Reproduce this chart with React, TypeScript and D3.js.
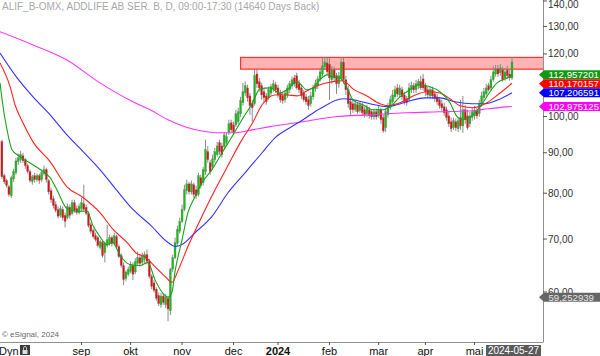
import React from "react";
import * as d3 from "d3";

const W = 600;
const H = 356;
const PLOT_R = 543;
const PLOT_B = 342;

const title = "ALIF_B-OMX, ADDLIFE AB SER. B, D, 09:00-17:30 (14640 Days Back)";

// [open, high, low, close] per trading day, 2023-07-17 .. 2024-05-27
const ohlc: [number, number, number, number][] = [
  [93.0, 93.5, 83.4, 83.9], [84.2, 84.7, 82.2, 82.7], [83.0, 83.4, 81.3, 81.8], [81.5, 82.0, 79.2, 79.7],
  [79.4, 84.2, 78.9, 83.7], [83.4, 85.9, 82.7, 85.2], [84.9, 88.7, 84.4, 87.9], [87.7, 89.8, 86.9, 88.7],
  [88.2, 90.5, 87.4, 89.5], [89.2, 90.0, 87.4, 87.9], [88.2, 88.7, 85.9, 86.7], [86.7, 87.2, 84.7, 85.2],
  [85.2, 85.7, 82.5, 83.0], [82.7, 84.4, 82.0, 83.9], [84.2, 84.9, 82.5, 83.2], [83.2, 84.7, 82.7, 84.2],
  [84.2, 84.7, 82.2, 83.0], [83.2, 85.7, 82.7, 84.9], [84.7, 86.7, 84.2, 85.7], [85.7, 86.2, 82.5, 83.2],
  [83.0, 83.4, 79.7, 80.3], [80.6, 81.3, 77.8, 78.5], [78.7, 79.4, 76.5, 77.2], [77.4, 78.1, 75.6, 76.1],
  [76.3, 77.0, 74.3, 74.8], [75.0, 77.2, 74.5, 76.5], [76.3, 77.0, 73.9, 74.5], [75.0, 75.6, 72.4, 73.7],
  [74.5, 77.6, 74.1, 77.0], [76.8, 77.4, 74.3, 75.0], [75.4, 78.5, 75.0, 77.8], [77.8, 78.5, 75.6, 76.1],
  [76.5, 77.2, 75.2, 75.6], [75.6, 77.6, 75.2, 77.0], [76.5, 79.0, 75.9, 77.8], [77.6, 82.0, 75.9, 76.3],
  [76.8, 77.4, 75.0, 75.4], [75.4, 75.9, 72.4, 72.8], [73.0, 73.5, 71.1, 71.6], [71.8, 72.2, 70.1, 70.5],
  [70.7, 71.3, 69.5, 69.9], [70.3, 70.7, 68.3, 68.7], [68.3, 69.9, 67.9, 69.5], [69.3, 69.7, 66.3, 66.7],
  [67.3, 69.5, 65.4, 69.1], [68.7, 73.0, 68.3, 69.9], [69.1, 70.9, 68.7, 70.3], [70.3, 70.7, 68.5, 69.1],
  [69.1, 71.3, 68.7, 70.7], [70.5, 70.9, 68.1, 68.5], [68.5, 68.9, 66.2, 66.5], [66.7, 67.1, 64.4, 64.8],
  [64.8, 65.4, 61.2, 62.2], [62.4, 63.9, 61.9, 63.6], [63.2, 64.6, 62.8, 64.1], [63.7, 65.6, 63.4, 65.0],
  [64.8, 65.4, 62.1, 63.2], [63.6, 66.2, 63.2, 65.6], [65.2, 67.5, 64.8, 66.3], [66.3, 67.1, 64.6, 65.2],
  [65.4, 67.3, 64.8, 66.7], [66.0, 67.5, 65.2, 66.9], [66.9, 67.9, 65.0, 65.6], [65.6, 66.0, 62.4, 62.8],
  [62.8, 63.2, 60.5, 61.0], [61.6, 62.1, 59.9, 60.3], [60.5, 60.8, 58.5, 58.9], [59.4, 59.9, 57.6, 58.0],
  [57.8, 59.8, 57.3, 59.3], [59.3, 59.8, 57.8, 58.2], [57.8, 59.6, 57.3, 59.1], [58.9, 59.3, 55.1, 57.1],
  [56.8, 64.4, 56.1, 64.1], [64.1, 66.9, 63.6, 66.3], [66.3, 70.3, 66.0, 69.3], [69.1, 72.8, 68.5, 72.0],
  [71.6, 74.5, 71.1, 73.7], [73.7, 77.4, 73.3, 76.3], [76.3, 82.0, 75.9, 80.8], [80.6, 83.2, 79.7, 82.2],
  [82.2, 82.7, 79.7, 80.3], [80.3, 83.0, 79.7, 82.2], [82.0, 82.5, 79.0, 79.7], [80.8, 81.8, 78.7, 79.4],
  [79.7, 84.9, 79.2, 84.2], [83.7, 84.4, 81.1, 81.8], [82.5, 86.4, 81.8, 85.7], [85.2, 93.5, 84.4, 90.8],
  [90.3, 91.8, 87.4, 88.2], [87.4, 88.2, 84.4, 85.2], [86.4, 89.5, 85.7, 88.4], [88.2, 91.3, 87.4, 90.3],
  [89.5, 92.9, 89.0, 91.8], [92.7, 93.5, 89.5, 90.3], [91.8, 92.7, 88.7, 89.5], [91.6, 95.6, 90.8, 94.8],
  [92.7, 95.4, 92.1, 94.3], [95.4, 99.1, 94.8, 97.9], [98.2, 99.1, 95.6, 96.2], [97.6, 98.5, 94.8, 95.6],
  [97.6, 102.0, 97.0, 100.8], [98.5, 102.6, 97.9, 101.4], [100.8, 105.9, 99.9, 104.7], [104.1, 110.3, 103.2, 107.5],
  [107.1, 110.7, 106.2, 109.4], [108.7, 109.7, 104.4, 105.6], [106.2, 107.1, 100.5, 103.2], [103.8, 105.0, 98.5, 102.6],
  [103.8, 114.6, 103.2, 112.6], [113.2, 115.2, 108.7, 110.0], [110.7, 111.9, 107.5, 108.7], [109.4, 110.3, 105.0, 106.5],
  [107.5, 108.4, 104.1, 105.6], [106.2, 107.1, 103.5, 104.4], [105.6, 109.1, 105.0, 108.1], [107.1, 110.0, 106.2, 109.1],
  [108.4, 111.3, 107.5, 110.0], [109.7, 110.7, 107.1, 108.1], [108.7, 109.7, 105.6, 106.5], [107.1, 108.1, 104.1, 105.0],
  [106.2, 107.1, 103.8, 104.7], [105.0, 108.1, 104.1, 107.1], [106.5, 109.7, 105.6, 108.7], [108.1, 111.0, 107.1, 110.0],
  [109.4, 112.3, 108.4, 111.3], [111.9, 112.9, 109.1, 110.0], [112.6, 113.6, 108.1, 108.7], [110.0, 111.3, 107.1, 108.1],
  [108.7, 109.7, 105.3, 106.2], [107.1, 108.1, 104.4, 105.0], [105.9, 106.8, 103.5, 104.4], [105.0, 106.2, 102.0, 103.2],
  [103.8, 107.5, 102.9, 106.2], [105.9, 109.7, 105.0, 108.7], [108.4, 111.3, 107.5, 110.0], [109.4, 112.6, 108.4, 111.6],
  [111.3, 115.2, 110.7, 113.9], [113.2, 118.6, 112.3, 115.9], [115.6, 118.9, 114.6, 117.2], [116.9, 118.6, 112.9, 113.9],
  [116.5, 118.6, 105.0, 111.9], [111.3, 115.9, 110.0, 114.6], [114.6, 115.6, 110.7, 111.9], [112.6, 113.6, 106.8, 110.0],
  [110.0, 113.9, 108.7, 112.6], [111.9, 118.9, 111.3, 117.2], [117.2, 118.6, 110.0, 111.3], [111.3, 112.6, 106.5, 108.1],
  [108.1, 109.4, 102.6, 103.8], [104.4, 105.6, 100.2, 102.0], [103.8, 105.0, 101.1, 102.0], [102.0, 105.0, 101.4, 103.8],
  [103.5, 104.4, 100.8, 101.4], [101.7, 104.4, 101.1, 103.5], [103.2, 104.1, 100.2, 101.1], [102.0, 102.9, 99.7, 100.5],
  [100.8, 103.5, 99.9, 102.6], [102.0, 102.9, 99.4, 100.2], [101.4, 102.0, 99.1, 99.9], [99.9, 102.3, 99.1, 101.4],
  [101.4, 102.3, 99.1, 99.9], [100.2, 103.2, 99.7, 102.0], [102.0, 102.6, 97.9, 99.1], [99.7, 100.5, 95.4, 95.9],
  [96.8, 102.6, 95.6, 101.4], [100.5, 104.1, 99.7, 103.2], [102.6, 106.2, 102.0, 105.0], [104.4, 108.1, 103.8, 106.5],
  [105.9, 109.4, 105.3, 108.1], [108.7, 110.0, 105.9, 106.8], [106.5, 109.7, 105.6, 108.7], [108.1, 109.1, 105.0, 105.9],
  [106.5, 107.5, 103.5, 104.4], [105.3, 106.2, 103.2, 104.1], [105.0, 110.3, 104.4, 108.7], [108.1, 110.7, 107.1, 109.4],
  [109.4, 110.3, 107.1, 108.1], [108.1, 111.3, 107.1, 110.0], [109.4, 111.6, 108.4, 110.7], [110.7, 112.6, 108.1, 108.7],
  [111.6, 113.2, 107.8, 108.7], [109.4, 110.3, 106.2, 107.5], [108.1, 109.1, 105.6, 106.5], [106.2, 109.1, 105.3, 108.1],
  [108.1, 109.1, 105.3, 106.2], [106.8, 107.8, 104.4, 105.3], [105.9, 106.8, 103.5, 104.4], [105.0, 105.9, 102.3, 103.2],
  [103.8, 105.0, 101.7, 102.6], [102.9, 104.1, 100.2, 101.1], [102.0, 102.9, 98.8, 99.7], [100.2, 101.4, 97.0, 97.9],
  [98.5, 99.7, 95.6, 96.5], [96.8, 99.7, 96.2, 98.8], [98.5, 99.4, 95.9, 96.8], [96.5, 99.7, 95.6, 98.8],
  [99.7, 105.0, 96.2, 97.3], [97.3, 106.2, 95.4, 102.0], [102.0, 103.5, 97.9, 99.1], [100.2, 102.0, 96.2, 96.8],
  [97.9, 101.4, 97.0, 100.2], [99.7, 102.6, 98.8, 101.4], [100.2, 103.2, 99.1, 101.7], [101.7, 102.6, 99.4, 100.2],
  [100.8, 105.0, 99.9, 103.8], [103.8, 107.5, 102.9, 106.2], [105.6, 108.7, 104.7, 107.5], [106.8, 110.0, 105.9, 108.7],
  [109.4, 110.3, 107.5, 108.1], [108.7, 112.6, 107.8, 111.3], [111.3, 115.9, 110.7, 113.9], [113.2, 116.2, 112.3, 114.9],
  [114.9, 116.2, 112.3, 113.2], [113.6, 116.5, 112.6, 115.2], [114.6, 115.6, 110.7, 111.3], [111.9, 115.2, 111.0, 113.9],
  [114.6, 115.9, 111.6, 112.6], [113.2, 114.6, 111.0, 111.9], [111.9, 118.9, 111.3, 117.2],
];

// month labels and the index of each month's first trading day
const monthLabels = ["sep", "okt", "nov", "dec", "2024", "feb", "mar", "apr", "mai"];
const monthStart = [34, 55, 77, 99, 118, 140, 161, 181, 202];

const yTicks = [140, 130, 120, 110, 100, 90, 80, 70, 60];

// moving averages: [day index, value]
const maGreen: [number, number][] = [
  [-0.8, 110.3], [0.5, 102.9], [2.2, 96.2], [4.3, 90.8], [7.7, 89.0], [13.3, 86.9], [17.6, 85.2], [20.6, 83.7],
  [23.5, 80.8], [27.8, 76.5], [32.1, 75.9], [36.4, 75.9], [38.9, 72.8], [41.9, 70.5], [44.9, 68.9], [47.5, 69.3],
  [49.2, 67.9], [51.8, 66.0], [54.7, 65.0], [59.0, 64.8], [62.4, 65.4], [65.4, 62.2], [68.4, 60.0], [71.0, 59.1],
  [72.7, 60.0], [74.0, 63.7], [77.0, 69.9], [79.5, 75.6], [82.5, 79.2], [85.5, 82.5], [89.8, 85.7], [94.1, 90.0],
  [98.3, 94.3], [102.6, 99.1], [106.9, 103.8], [110.3, 108.4], [114.6, 108.7], [118.8, 107.1], [121.8, 108.1],
  [126.1, 110.7], [130.4, 108.1], [132.9, 108.7], [135.9, 111.3], [138.9, 112.9], [141.5, 112.3], [144.5, 111.9],
  [147.5, 108.7], [150.0, 105.0], [154.3, 103.5], [158.6, 102.0], [162.9, 102.0], [165.9, 102.9], [170.1, 105.9],
  [174.4, 108.1], [178.7, 109.7], [183.0, 109.1], [187.2, 107.5], [191.5, 104.1], [194.5, 100.0], [197.0, 99.1],
  [201.3, 100.5], [205.6, 104.1], [208.6, 107.5], [211.6, 110.3], [215.9, 111.9], [218, 112.96],
];
const maRed: [number, number][] = [
  [-0.8, 116.9], [3.5, 109.1], [5.6, 103.5], [9.0, 98.2], [13.3, 92.9], [20.6, 87.7], [27.8, 81.5], [34.7, 79.0],
  [41.9, 75.6], [47.5, 72.0], [53.5, 69.3], [57.7, 67.1], [61.2, 66.5], [65.4, 64.6], [69.7, 62.8], [72.7, 61.7],
  [75.3, 63.9], [79.5, 68.5], [85.5, 74.8], [91.1, 80.8], [96.6, 86.7], [102.6, 93.5], [106.9, 97.9], [111.2, 103.5],
  [116.7, 106.5], [121.8, 106.5], [126.1, 106.2], [130.4, 107.8], [135.9, 109.7], [141.5, 110.7], [145.8, 111.0],
  [150.0, 108.4], [156.0, 106.2], [161.6, 103.8], [164.6, 103.2], [170.1, 104.1], [175.7, 106.2], [181.7, 107.5],
  [187.2, 107.1], [191.5, 105.3], [195.8, 103.2], [201.3, 102.6], [207.3, 104.1], [212.9, 107.1], [218, 110.17],
];
const maBlue: [number, number][] = [
  [-0.8, 120.3], [6.5, 111.9], [13.3, 105.9], [20.6, 100.5], [27.8, 94.8], [34.7, 90.3], [41.9, 85.7], [49.2, 80.6],
  [56.0, 76.3], [63.3, 73.0], [71.0, 69.3], [74.0, 68.5], [77.0, 68.9], [82.5, 71.3], [89.8, 74.8], [96.6, 80.1],
  [103.9, 84.9], [111.2, 90.0], [116.7, 94.0], [123.1, 96.8], [128.7, 99.1], [135.9, 102.3], [145.8, 105.3],
  [150.0, 105.0], [157.3, 103.8], [164.6, 102.9], [168.8, 103.5], [174.4, 104.7], [180.8, 105.6], [187.2, 105.6],
  [193.6, 104.4], [200.9, 103.8], [206.5, 103.8], [212.0, 105.0], [218, 107.21],
];
const maMagenta: [number, number][] = [
  [-0.8, 128.0], [13.3, 123.2], [27.8, 117.9], [41.9, 110.3], [56.0, 104.4], [63.3, 102.0], [71.0, 99.1],
  [78.2, 97.1], [85.5, 95.9], [92.4, 95.4], [99.6, 95.4], [106.9, 96.2], [114.6, 97.1], [128.7, 98.5],
  [143.2, 100.0], [157.3, 100.5], [172.3, 101.1], [186.4, 101.4], [200.9, 101.7], [207.7, 102.3], [218, 102.98],
];

const zoneLow = 114.8;
const zoneHigh = 118.8;
const zoneStart = 102;

const lastValues = [112.957201, 110.170157, 107.206591, 102.975125];
const lastColors = ["#0f9a0f", "#ff0000", "#0000ff", "#ff00ff"];
const extraValue = 59.252939;
const lastDate = "2024-05-27";

const fmt = (v: number, d: number) => v.toFixed(d).replace(".", ",");

export default function App() {
  const x = d3.scaleLinear().domain([0, 218]).range([1.9, 512]);
  const y = d3.scaleLog().domain([140, 60]).range([1, 292]);
  const line = d3
    .line<[number, number]>()
    .x((d) => x(d[0]))
    .y((d) => y(d[1]))
    .curve(d3.curveMonotoneX);

  const font = "Arial, 'Liberation Sans', sans-serif";

  // stacked last-value labels
  const labelYs: number[] = [];
  lastValues.forEach((v, i) => {
    let yy = y(v);
    if (i > 0 && yy < labelYs[i - 1] + 9) yy = labelYs[i - 1] + 9;
    labelYs.push(yy);
  });

  // hide axis labels that sit under the value tags (as in the original)
  const covered = (t: number) => labelYs.some((ly) => Math.abs(ly - y(t)) < 6);

  const mas: { data: [number, number][]; color: string }[] = [
    { data: maMagenta, color: "#ff33ff" },
    { data: maBlue, color: "#3333ff" },
    { data: maRed, color: "#ff2020" },
    { data: maGreen, color: "#1aa01a" },
  ];

  const tag = (cy: number, color: string, text: string, textColor: string, key: string) => (
    <g key={key}>
      <path
        d={`M${PLOT_R - 4},${cy} L${PLOT_R + 1},${cy - 4.5} L600,${cy - 4.5} L600,${cy + 4.5} L${PLOT_R + 1},${cy + 4.5} Z`}
        fill={color}
      />
      <text
        x={548.5}
        y={cy + 3.3}
        fontSize={9}
        fill={textColor}
        fontFamily={font}
        textLength={text.length * 5.05}
        lengthAdjust="spacingAndGlyphs"
      >
        {text}
      </text>
    </g>
  );

  return (
    <svg
      width={W}
      height={H}
      style={{ position: "absolute", left: 0, top: 0, background: "#fff" }}
    >
      <defs>
        <clipPath id="plot">
          <rect x={0} y={0} width={PLOT_R} height={PLOT_B} />
        </clipPath>
      </defs>
      <rect x={0} y={0} width={W} height={H} fill="#fff" />

      <text x={2} y={10} fontSize={10} fill="#a8a8a8" fontFamily={font}>
        {title}
      </text>

      <g clipPath="url(#plot)">
        <rect
          x={x(zoneStart)}
          y={y(zoneHigh)}
          width={PLOT_R - x(zoneStart) + 2}
          height={y(zoneLow) - y(zoneHigh)}
          fill="#ffb3b3"
          stroke="#ff3030"
          strokeWidth={1.2}
        />
        {ohlc.map((d, i) => {
          const [o, h, l, c] = d;
          const cx = x(i);
          const up = c >= o;
          const top = y(Math.max(o, c));
          const bot = y(Math.min(o, c));
          return (
            <g key={i}>
              <line x1={cx} x2={cx} y1={y(h)} y2={y(l)} stroke="#8a8a8a" strokeWidth={1} />
              <rect
                x={cx - 1}
                y={top}
                width={2}
                height={Math.max(1, bot - top)}
                fill={up ? "#10c010" : "#e01010"}
                stroke="#7a7a7a"
                strokeWidth={0.3}
              />
            </g>
          );
        })}
        {mas.map((m, i) => (
          <path key={i} d={line(m.data) || ""} fill="none" stroke={m.color} strokeWidth={1.1} />
        ))}
      </g>

      <text x={2} y={337} fontSize={8} fill="#666" fontFamily={font}>
        © eSignal, 2024
      </text>

      {/* frame */}
      <line x1={PLOT_R + 0.5} x2={PLOT_R + 0.5} y1={0} y2={PLOT_B} stroke="#909090" strokeWidth={1} />
      <line x1={0} x2={PLOT_R + 0.5} y1={PLOT_B + 0.5} y2={PLOT_B + 0.5} stroke="#909090" strokeWidth={1} />

      {/* y axis */}
      {yTicks.map((t) => (
        <g key={t}>
          <line x1={PLOT_R} x2={PLOT_R + 4} y1={y(t)} y2={y(t)} stroke="#555" />
          {!covered(t) && (
            <text x={548} y={Math.max(y(t) + 3.5, 8)} fontSize={10} fill="#333" fontFamily={font}>
              {fmt(t, 2)}
            </text>
          )}
        </g>
      ))}

      {/* x axis */}
      {monthStart.map((mi, k) => (
        <g key={k}>
          <line x1={x(mi)} x2={x(mi)} y1={PLOT_B} y2={PLOT_B + 3} stroke="#555" />
          <text
            x={x(mi)}
            y={355}
            fontSize={11}
            textAnchor="middle"
            fill="#111"
            fontWeight={monthLabels[k] === "2024" ? "bold" : "normal"}
            fontFamily={font}
          >
            {monthLabels[k]}
          </text>
        </g>
      ))}
      <text x={-1} y={355} fontSize={11} fill="#111" fontFamily={font}>
        Dyn
      </text>
      <g>
        <rect x={20} y={345} width={10} height={10} fill="#3a3a3a" />
        <rect x={22.5} y={350} width={5} height={4} fill="#ddd" />
        <path d="M23.5,350 v-2 a1.5,1.5 0 0 1 3,0 v2" fill="none" stroke="#ddd" strokeWidth={0.8} />
      </g>
      <rect x={486} y={345} width={55} height={11} fill="#5a5a5a" />
      <text x={513.5} y={354} fontSize={10} textAnchor="middle" fill="#fff" fontFamily={font}>
        {lastDate}
      </text>

      {/* last value tags */}
      {lastValues.map((v, i) => tag(labelYs[i], lastColors[i], fmt(v, 6), "#fff", `t${i}`))}
      {tag(y(extraValue) + 1, "#666666", fmt(extraValue, 6), "#e8e8e8", "gray")}
    </svg>
  );
}
